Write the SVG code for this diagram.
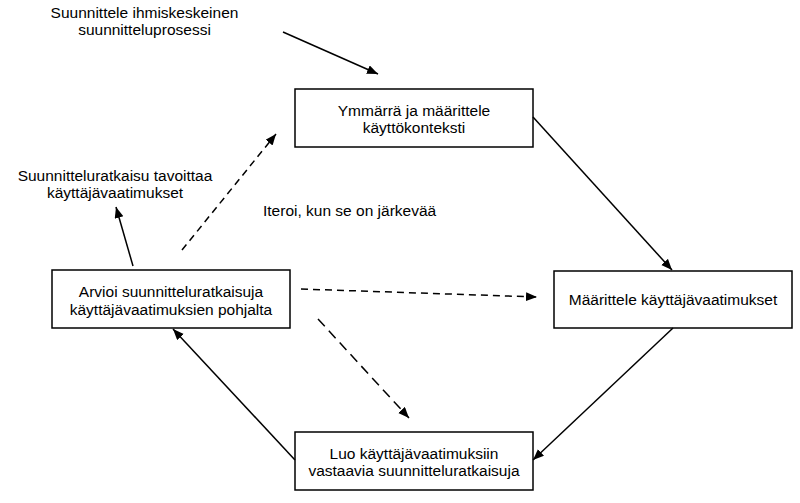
<svg xmlns="http://www.w3.org/2000/svg" width="800" height="503" viewBox="0 0 800 503">
<style>
.box{fill:#fff;stroke:#000;stroke-width:1.5}
text{font-family:"Liberation Sans",Arial,sans-serif;font-size:15.5px;fill:#000}
.c{text-anchor:middle}
.ln{stroke:#000;stroke-width:1.5;fill:none}
.d1{stroke-dasharray:7 5}
.d2{stroke-dasharray:10 6}
</style>
<defs>
<marker id="ah" markerUnits="userSpaceOnUse" markerWidth="12" markerHeight="10" refX="11" refY="4.5" orient="auto">
<path d="M0,0 L11,4.5 L0,9 z" fill="#000"/>
</marker>
</defs>
<rect width="800" height="503" fill="#fff"/>
<g id="label-start">
<text class="c" x="144.5" y="17.5">Suunnittele ihmiskeskeinen</text>
<text class="c" x="144.5" y="34.5">suunnitteluprosessi</text>
</g>
<g id="label-end">
<text class="c" x="115" y="180.5">Suunnitteluratkaisu tavoittaa</text>
<text class="c" x="115" y="197.5">käyttäjävaatimukset</text>
</g>
<g id="label-iterate">
<text x="263" y="216">Iteroi, kun se on järkevää</text>
</g>
<g id="node-context">
<rect class="box" x="295" y="89" width="238" height="58"/>
<text class="c" x="414" y="116">Ymmärrä ja määrittele</text>
<text class="c" x="414" y="133">käyttökonteksti</text>
</g>
<g id="node-requirements">
<rect class="box" x="554" y="271" width="238" height="57"/>
<text class="c" x="673" y="305">Määrittele käyttäjävaatimukset</text>
</g>
<g id="node-create">
<rect class="box" x="295" y="432" width="238" height="58"/>
<text class="c" x="414" y="458.5">Luo käyttäjävaatimuksiin</text>
<text class="c" x="414" y="476">vastaavia suunnitteluratkaisuja</text>
</g>
<g id="node-evaluate">
<rect class="box" x="52" y="270" width="238" height="58"/>
<text class="c" x="171" y="297">Arvioi suunnitteluratkaisuja</text>
<text class="c" x="171" y="314.5">käyttäjävaatimuksien pohjalta</text>
</g>
<g id="connectors">
<line class="ln" x1="283" y1="32" x2="378" y2="74" marker-end="url(#ah)"/>
<line class="ln" x1="533" y1="117" x2="672" y2="270" marker-end="url(#ah)"/>
<line class="ln" x1="673" y1="328" x2="533" y2="460" marker-end="url(#ah)"/>
<line class="ln" x1="295" y1="460" x2="173" y2="329" marker-end="url(#ah)"/>
<line class="ln" x1="133" y1="266" x2="116" y2="207" marker-end="url(#ah)"/>
<line class="ln d1" x1="182" y1="250" x2="276" y2="134" marker-end="url(#ah)"/>
<line class="ln d1" x1="301" y1="289" x2="537" y2="297" marker-end="url(#ah)"/>
<line class="ln d2" x1="318" y1="319" x2="409" y2="418" marker-end="url(#ah)"/>
</g>
</svg>
